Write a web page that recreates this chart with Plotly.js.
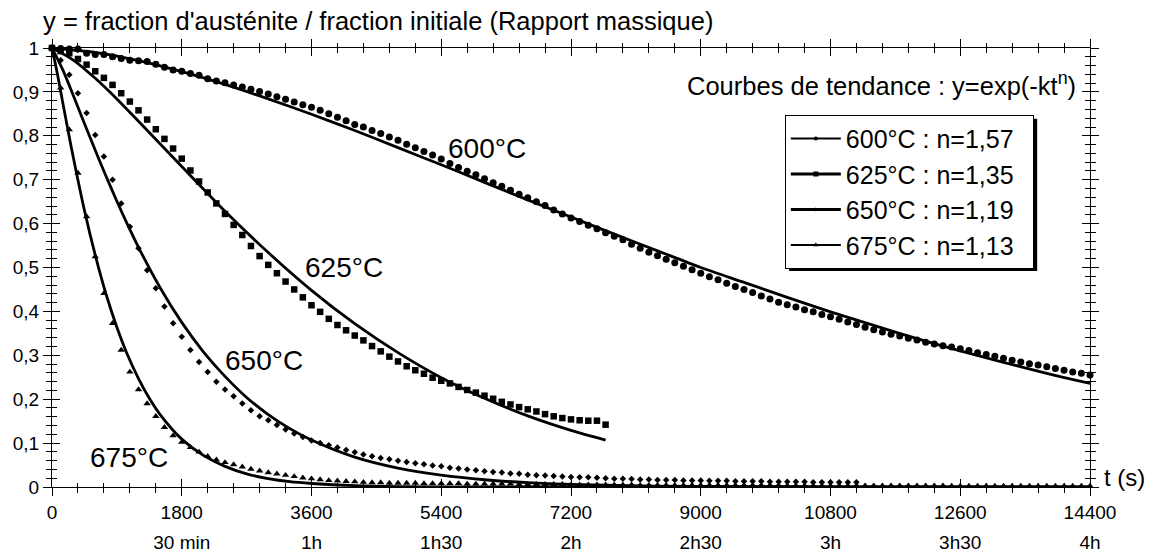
<!DOCTYPE html>
<html>
<head>
<meta charset="utf-8">
<script src="https://cdn.plot.ly/plotly-3.0.1.min.js"></script>
<style>html,body{margin:0;padding:0;background:#fff;}#chart{width:1151px;height:555px;}</style>
</head>
<body>
<div id="chart"></div>
<script>
// ---------- DATA ----------
const seriesNames = ['600°C : n=1,57', '625°C : n=1,35', '650°C : n=1,19', '675°C : n=1,13'];
const curveLabels = ['600°C', '625°C', '650°C', '675°C'];
const labelT = [6040, 4049, 2945, 1065];
const labelY = [0.772, 0.499, 0.289, 0.068];

// measurement times (s)
const tMeas = [0,120,240,360,480,600,720,840,960,1080,1200,1320,1440,1560,1680,1800,1920,2040,2160,2280,2400,2520,2640,2760,2880,3000,3120,3240,3360,3480,3600,3720,3840,3960,4080,4200,4320,4440,4560,4680,4800,4920,5040,5160,5280,5400,5520,5640,5760,5880,6000,6120,6240,6360,6480,6600,6720,6840,6960,7080,7200,7320,7440,7560,7680,7800,7920,8040,8160,8280,8400,8520,8640,8760,8880,9000,9120,9240,9360,9480,9600,9720,9840,9960,10080,10200,10320,10440,10560,10680,10800,10920,11040,11160,11280,11400,11520,11640,11760,11880,12000,12120,12240,12360,12480,12600,12720,12840,12960,13080,13200,13320,13440,13560,13680,13800,13920,14040,14160,14280,14400];

const y600 = [1.000,0.999,0.998,0.998,0.988,0.985,0.985,0.980,0.976,0.972,0.971,0.969,0.963,0.956,0.950,0.947,0.942,0.938,0.930,0.925,0.921,0.916,0.911,0.906,0.901,0.895,0.889,0.883,0.877,0.871,0.865,0.858,0.850,0.842,0.834,0.826,0.820,0.812,0.805,0.797,0.790,0.781,0.773,0.764,0.756,0.747,0.737,0.728,0.719,0.711,0.702,0.693,0.685,0.676,0.667,0.659,0.650,0.641,0.631,0.622,0.613,0.605,0.596,0.588,0.579,0.571,0.563,0.553,0.544,0.535,0.527,0.519,0.511,0.503,0.495,0.487,0.479,0.472,0.464,0.457,0.450,0.443,0.435,0.428,0.421,0.415,0.410,0.404,0.399,0.393,0.388,0.382,0.376,0.370,0.364,0.358,0.353,0.348,0.344,0.339,0.335,0.330,0.326,0.322,0.319,0.315,0.311,0.306,0.302,0.298,0.293,0.289,0.285,0.281,0.278,0.274,0.270,0.266,0.262,0.259,0.255];

const y625 = [1.000,0.993,0.988,0.975,0.962,0.947,0.932,0.916,0.897,0.878,0.858,0.837,0.815,0.793,0.771,0.748,0.721,0.696,0.671,0.646,0.622,0.597,0.574,0.549,0.526,0.506,0.487,0.468,0.450,0.432,0.414,0.399,0.383,0.369,0.357,0.345,0.334,0.321,0.309,0.297,0.286,0.275,0.266,0.258,0.249,0.242,0.236,0.228,0.221,0.215,0.208,0.201,0.194,0.188,0.182,0.177,0.172,0.166,0.161,0.157,0.154,0.152,0.151,0.151,0.142];

const y650 = [1.000,0.972,0.939,0.897,0.852,0.802,0.753,0.700,0.646,0.593,0.544,0.494,0.453,0.411,0.373,0.342,0.312,0.285,0.262,0.240,0.222,0.207,0.190,0.175,0.161,0.152,0.141,0.131,0.122,0.114,0.106,0.100,0.095,0.090,0.084,0.079,0.074,0.070,0.066,0.063,0.060,0.057,0.054,0.052,0.049,0.047,0.044,0.042,0.040,0.038,0.036,0.034,0.033,0.031,0.030,0.028,0.027,0.026,0.025,0.024,0.023,0.022,0.022,0.021,0.020,0.019,0.019,0.018,0.017,0.017,0.016,0.016,0.016,0.015,0.015,0.015,0.014,0.014,0.014,0.013,0.013,0.013,0.013,0.012,0.012,0.012,0.012,0.012,0.011,0.011,0.011,0.011,0.011,0.011];

const y675 = [1.000,0.909,0.814,0.715,0.616,0.525,0.441,0.373,0.312,0.262,0.222,0.190,0.161,0.136,0.117,0.102,0.090,0.080,0.070,0.062,0.056,0.051,0.046,0.041,0.037,0.033,0.030,0.027,0.024,0.021,0.019,0.017,0.015,0.014,0.013,0.012,0.011,0.010,0.010,0.009,0.009,0.009,0.009,0.008,0.008,0.008,0.008,0.008,0.007,0.007,0.007,0.007,0.007,0.007,0.006,0.006,0.006,0.006,0.006,0.006,0.005,0.005,0.005,0.005,0.005,0.005,0.005,0.005,0.004,0.004,0.004,0.004,0.004,0.004,0.004,0.004,0.004,0.004,0.004,0.004,0.004,0.004,0.004,0.004,0.004,0.003,0.003,0.003,0.003,0.003,0.003,0.003,0.003,0.003,0.003,0.003,0.003,0.003,0.003,0.003,0.003,0.003,0.003,0.003,0.002,0.002,0.002,0.002,0.002,0.002,0.002,0.002,0.002,0.002,0.002,0.002,0.002,0.002,0.002,0.002,0.002];

// trend curves y = exp(-k t^n)
const tTrend600 = [0,600,1200,1800,2400,3000,3600,4200,4800,5400,6000,6600,7200,7800,8400,9000,9600,10200,10800,11400,12000,12600,13200,13800,14400];
const yTrend600 = [1.000,0.990,0.971,0.946,0.917,0.884,0.849,0.812,0.773,0.734,0.694,0.654,0.615,0.576,0.538,0.500,0.466,0.432,0.399,0.368,0.338,0.310,0.284,0.259,0.236];

const tTrend625 = [0,300,600,900,1200,1800,2400,3000,3600,4200,4800,5400,6000,6600,7200,7680];
const yTrend625 = [1.000,0.972,0.931,0.884,0.833,0.730,0.628,0.534,0.448,0.372,0.306,0.249,0.202,0.162,0.129,0.107];

const tTrend650 = [0,150,300,450,600,750,900,1050,1200,1500,1800,2100,2400,2700,3000,3300,3600,4200,4800,5400,6000,6600,7200,8400,9600,10800,12000,14400];
const yTrend650 = [1.000,0.950,0.890,0.828,0.767,0.708,0.651,0.597,0.546,0.454,0.375,0.308,0.252,0.204,0.165,0.133,0.107,0.068,0.043,0.027,0.0165,0.010,0.006,0.002,0.001,0.0005,0.0002,0.0001];

const tTrend675 = [0,75,150,225,300,450,600,750,900,1050,1200,1350,1500,1800,2100,2400,2700,3000,3300,3600,4200,4800,6000,8400,14400];
const yTrend675 = [1.000,0.941,0.875,0.810,0.747,0.630,0.528,0.439,0.364,0.300,0.247,0.202,0.165,0.109,0.072,0.047,0.030,0.019,0.012,0.008,0.003,0.001,0.0002,0.0000,0.0000];

// axis ticks
const xTickVals = [0,1800,3600,5400,7200,9000,10800,12600,14400];
const xTickLabels = ['0','1800','3600','5400','7200','9000','10800','12600','14400'];
const xSubVals = [1800,3600,5400,7200,9000,10800,12600,14400];
const xSubLabels = ['30 min','1h','1h30','2h','2h30','3h','3h30','4h'];
const yTickVals = [0,0.1,0.2,0.3,0.4,0.5,0.6,0.7,0.8,0.9,1];
const yTickLabels = ['0','0,1','0,2','0,3','0,4','0,5','0,6','0,7','0,8','0,9','1'];

// ---------- STYLE ----------
const FONT = 'Liberation Sans, Arial, sans-serif';
const markerSymbols = ['circle', 'square', 'diamond', 'triangle-up'];
const markerSizes = [7, 6.5, 5, 6.5];
const legendMarkerSizes = [4, 5, 3, 5];
const legendLineWidths = [2, 3, 3, 2];
const PAD_NAME = '\u00a0\u00a0';

const measY = [y600, y625, y650, y675];
const trendT = [tTrend600, tTrend625, tTrend650, tTrend675];
const trendY = [yTrend600, yTrend625, yTrend650, yTrend675];

const traces = [];
for (let i = 0; i < 4; i++) {
  traces.push({
    x: trendT[i], y: trendY[i], type: 'scatter', mode: 'lines',
    line: {color: '#000', width: 2.8, shape: 'spline', smoothing: 0.8},
    showlegend: false, hoverinfo: 'skip', cliponaxis: false
  });
}
for (let i = 0; i < 4; i++) {
  traces.push({
    x: tMeas.slice(0, measY[i].length), y: measY[i], type: 'scatter', mode: 'markers',
    marker: {symbol: markerSymbols[i], size: markerSizes[i], color: '#000', line: {width: 0}},
    showlegend: false, hoverinfo: 'skip', cliponaxis: false
  });
}
// legend entries (line + marker)
for (let i = 0; i < 4; i++) {
  traces.push({
    x: [null], y: [null], type: 'scatter', mode: 'lines+markers', name: seriesNames[i] + PAD_NAME,
    xaxis: 'x2', yaxis: 'y2', legendgroup: 'g' + i,
    line: {color: '#000', width: legendLineWidths[i]},
    marker: {symbol: markerSymbols[i], size: legendMarkerSizes[i], color: '#000'}
  });
}
// carrier for second row of x labels
traces.push({x: [null], y: [null], type: 'scatter', mode: 'markers', xaxis: 'x3', yaxis: 'y', showlegend: false, hoverinfo: 'skip'});

const axCommon = {showgrid: false, zeroline: false, linecolor: '#000', linewidth: 1, tickcolor: '#000', tickwidth: 1};

const annotations = curveLabels.map((txt, i) => ({
  x: labelT[i], y: labelY[i], xref: 'x', yref: 'y', text: txt, showarrow: false,
  xanchor: 'center', yanchor: 'middle', font: {family: FONT, size: 28, color: '#000'}
}));
annotations.push({
  x: 0.9886, y: 0.919, xref: 'paper', yref: 'paper', xanchor: 'right', yanchor: 'middle',
  text: 'Courbes de tendance : y=exp(-kt<sup>n</sup>)', showarrow: false,
  font: {family: FONT, size: 25.5, color: '#000'}
});
annotations.push({
  x: 1.0118, y: 0.022, xref: 'paper', yref: 'paper', xanchor: 'left', yanchor: 'middle',
  text: 't (s)', showarrow: false, font: {family: FONT, size: 24, color: '#000'}
});

const layout = {
  width: 1151, height: 555,
  margin: {l: 52, r: 61, t: 48, b: 68, pad: 0},
  paper_bgcolor: '#fff', plot_bgcolor: '#fff',
  font: {family: FONT, size: 19, color: '#000'},
  title: {text: "y = fraction d'austénite / fraction initiale (Rapport massique)",
          x: 0.0374, xref: 'container', xanchor: 'left', y: 0.962, yref: 'container', yanchor: 'middle',
          font: {family: FONT, size: 25.5, color: '#000'}},
  xaxis: Object.assign({}, axCommon, {
    range: [0, 14400], autorange: false, showline: true, mirror: 'ticks',
    ticks: 'outside', ticklen: 8, tickvals: xTickVals, ticktext: xTickLabels,
    tickfont: {family: FONT, size: 19, color: '#000'},
    minor: {ticks: 'outside', ticklen: 4.5, dtick: 360, tick0: 0, tickcolor: '#000', showgrid: false}
  }),
  xaxis2: Object.assign({}, axCommon, {
    overlaying: 'x', anchor: 'y', matches: 'x', range: [0, 14400], autorange: false,
    showline: false, mirror: 'ticks', ticks: 'inside', ticklen: 8, tickvals: xTickVals,
    showticklabels: false,
    minor: {ticks: 'inside', ticklen: 4.5, dtick: 360, tick0: 0, tickcolor: '#000', showgrid: false}
  }),
  xaxis3: Object.assign({}, axCommon, {
    overlaying: 'x', anchor: 'y', side: 'bottom', range: [0, 14400], autorange: false,
    showline: false, ticks: '', tickvals: xSubVals, ticktext: xSubLabels, ticklabelstandoff: 42,
    tickfont: {family: FONT, size: 19, color: '#000'}
  }),
  yaxis: Object.assign({}, axCommon, {
    range: [0, 1], autorange: false, showline: true, mirror: 'ticks',
    ticks: 'outside', ticklen: 8, tickvals: yTickVals, ticktext: yTickLabels,
    tickfont: {family: FONT, size: 19, color: '#000'},
    minor: {ticks: 'outside', ticklen: 5, dtick: 0.02, tick0: 0, tickcolor: '#000', showgrid: false}
  }),
  yaxis2: Object.assign({}, axCommon, {
    overlaying: 'y', anchor: 'x', matches: 'y', range: [0, 1], autorange: false,
    showline: false, mirror: 'ticks', ticks: 'inside', ticklen: 8, tickvals: yTickVals,
    showticklabels: false,
    minor: {ticks: 'inside', ticklen: 5, dtick: 0.02, tick0: 0, tickcolor: '#000', showgrid: false}
  }),
  showlegend: true,
  legend: {
    x: 0.706, y: 0.848, xanchor: 'left', yanchor: 'top',
    bgcolor: '#fff', bordercolor: '#000', borderwidth: 1,
    font: {family: FONT, size: 25, color: '#000'},
    itemwidth: 50, tracegroupgap: 0, traceorder: 'normal', itemclick: false
  },
  shapes: [{
    type: 'rect', xref: 'paper', yref: 'paper', layer: 'above',
    x0: 0.7101, x1: 0.9491, y0: 0.4920, y1: 0.8387,
    fillcolor: '#000', line: {width: 0}
  }],
  annotations: annotations
};

Plotly.newPlot('chart', traces, layout, {staticPlot: true, displayModeBar: false});
</script>
</body>
</html>
